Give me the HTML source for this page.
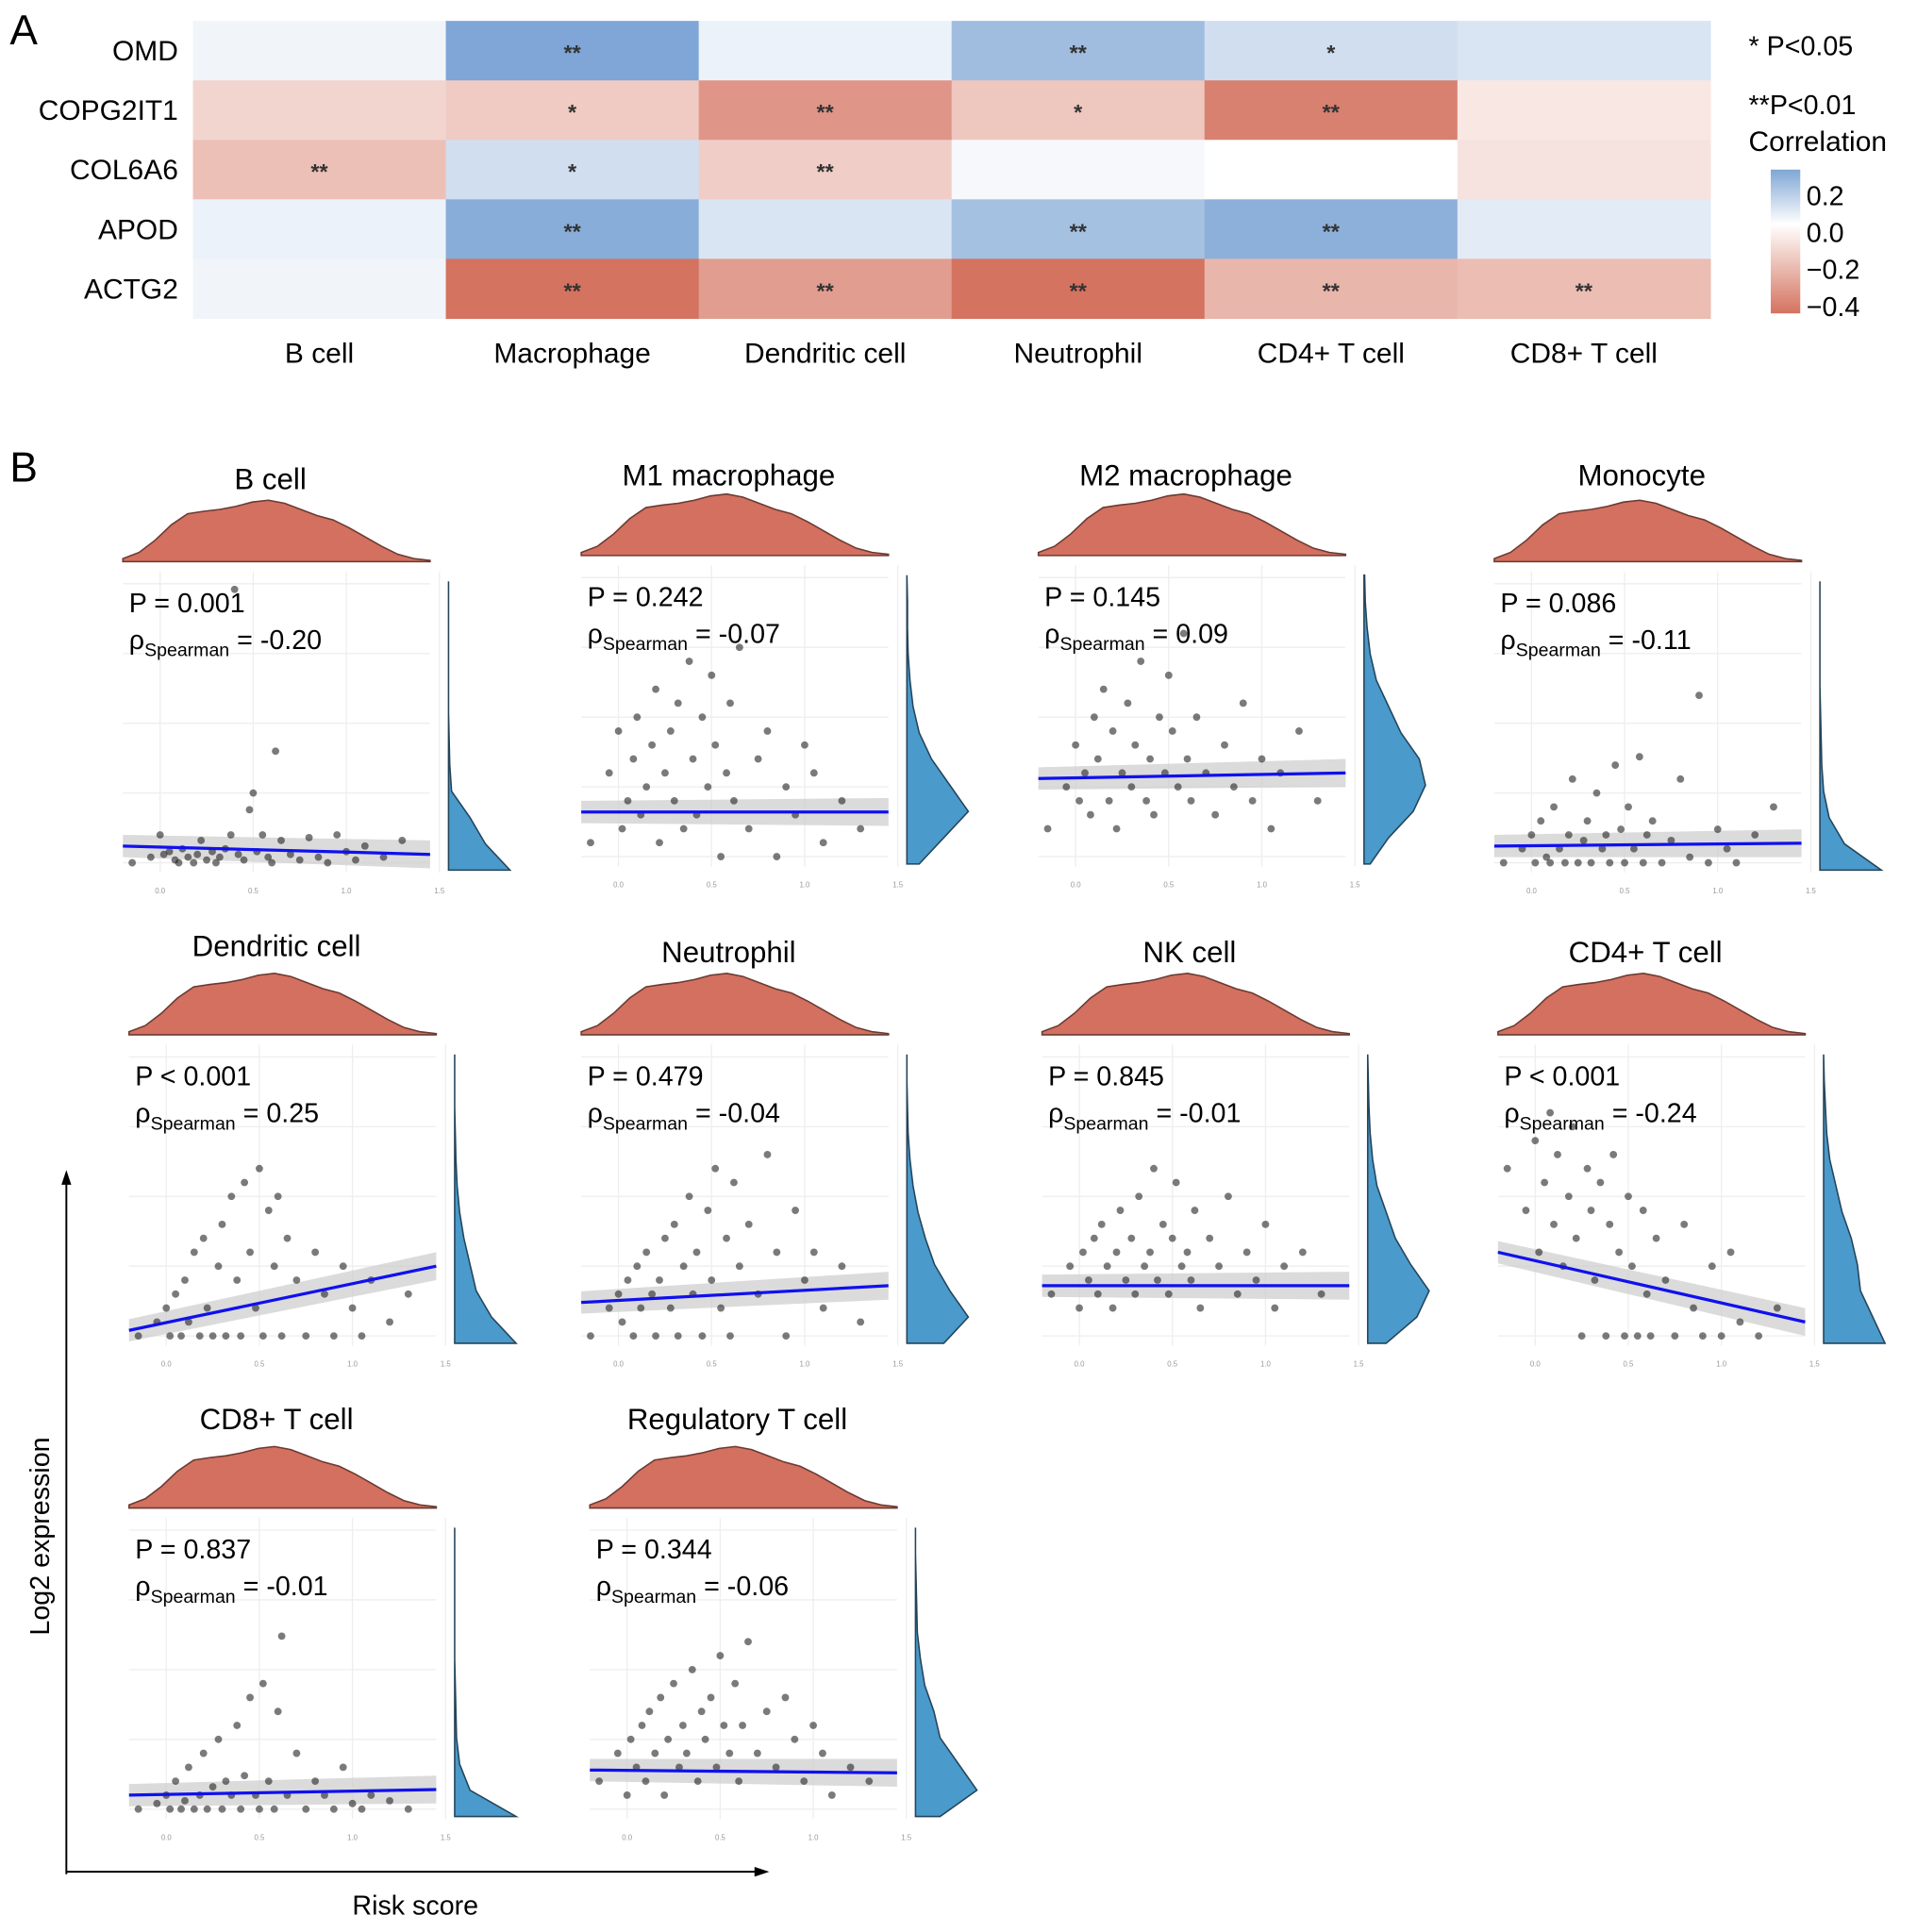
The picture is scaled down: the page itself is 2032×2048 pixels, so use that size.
<!DOCTYPE html>
<html><head><meta charset="utf-8"><style>
body{margin:0;background:#fff}
svg{display:block;font-family:"Liberation Sans",sans-serif}
</style></head><body>
<svg id="fig" width="2032" height="2048" viewBox="0 0 1560 1572" preserveAspectRatio="none" xmlns="http://www.w3.org/2000/svg">
<rect width="1560" height="1572" fill="#fff"/>
<text x="8" y="36" font-size="34">A</text>
<text x="8" y="392" font-size="34">B</text>
<g id="heat"></g>
<g id="legend">
<text x="1423" y="45" font-size="22">* P&lt;0.05</text>
<text x="1423" y="93" font-size="22">**P&lt;0.01</text>
<text x="1423" y="123" font-size="23">Correlation</text>
<defs><linearGradient id="cb" x1="0" y1="0" x2="0" y2="1">
<stop offset="0" stop-color="#7fa6d4"/><stop offset="0.38" stop-color="#ffffff"/><stop offset="1" stop-color="#d4735f"/></linearGradient></defs>
<rect x="1441" y="138" width="24" height="117" fill="url(#cb)"/>
</g>
<g id="panels"></g>
<g>
<line x1="54" y1="1525" x2="54" y2="960" stroke="#000" stroke-width="1.5"/>
<polygon points="54,952 50,964 58,964" fill="#000"/>
<line x1="54" y1="1523" x2="618" y2="1523" stroke="#000" stroke-width="1.5"/>
<polygon points="626,1523 614,1519 614,1527" fill="#000"/>
<text x="40" y="1250" font-size="22" text-anchor="middle" transform="rotate(-90 40 1250)">Log2 expression</text>
<text x="338" y="1558" font-size="22" text-anchor="middle">Risk score</text>
</g>
</svg>
<script>
const NS="http://www.w3.org/2000/svg";
function mk(tag,attrs,parent){const e=document.createElementNS(NS,tag);for(const k in attrs)e.setAttribute(k,attrs[k]);parent.appendChild(e);return e;}

// ---------- Heatmap data ----------
const heatGenes=["OMD","COPG2IT1","COL6A6","APOD","ACTG2"];
const heatCells=["B cell","Macrophage","Dendritic cell","Neutrophil","CD4+ T cell","CD8+ T cell"];
const heatValues=[
 [0.03,0.27,0.04,0.2,0.1,0.08],
 [-0.12,-0.15,-0.3,-0.16,-0.36,-0.07],
 [-0.18,0.1,-0.14,0.02,0.0,-0.08],
 [0.04,0.25,0.08,0.19,0.24,0.06],
 [0.03,-0.4,-0.28,-0.4,-0.21,-0.19]];
const heatStars=[
 ["","**","","**","*",""],
 ["","*","**","*","**",""],
 ["**","*","**","","",""],
 ["","**","","**","**",""],
 ["","**","**","**","**","**"]];
const legendTicks=["0.2","0.0","\u22120.2","\u22120.4"];
const legendTickVals=[0.2,0.0,-0.2,-0.4];

function mix(a,b,t){return a.map((v,i)=>Math.round(v+(b[i]-v)*t));}
function colorOf(v){const w=[255,255,255],bl=[122,163,212],rd=[210,108,88];
 const c=v>=0?mix(w,bl,Math.min(1,v/0.28)):mix(w,rd,Math.min(1,-v/0.42));return `rgb(${c})`;}
const heat=document.getElementById('heat');
const hx0=157,hy0=17,cw=205.8,ch=48.4;
heatValues.forEach((row,r)=>{
 const lb=mk('text',{x:145,y:hy0+r*ch+ch/2+8,'font-size':23,'text-anchor':'end'},heat);lb.textContent=heatGenes[r];
 
 
 row.forEach((v,c)=>{
  const rc=mk('rect',{x:hx0+c*cw,y:hy0+r*ch,width:cw+0.5,height:ch+0.5,fill:colorOf(v)},heat);
  
  
  if(heatStars[r][c]){const s=mk('text',{x:hx0+c*cw+cw/2,y:hy0+r*ch+ch/2+8,'font-size':18,'text-anchor':'middle','font-weight':'bold',fill:'#333'},heat);s.textContent=heatStars[r][c];
   
   }
 });
});
heatCells.forEach((n,c)=>{const t=mk('text',{x:hx0+c*cw+cw/2,y:295,'font-size':23,'text-anchor':'middle'},heat);t.textContent=n;
 
 });
const lg=document.getElementById('legend');
legendTickVals.forEach((v,i)=>{const y=159+(0.2-v)*150;
 const t=mk('text',{x:1470,y:y+8,'font-size':22},lg);t.textContent=legendTicks[i];
 
 });

// ---------- Scatter panel data ----------
const panelTitles=["B cell","M1 macrophage","M2 macrophage","Monocyte","Dendritic cell","Neutrophil","NK cell","CD4+ T cell","CD8+ T cell","Regulatory T cell"];
const pValues=["P = 0.001","P = 0.242","P = 0.145","P = 0.086","P < 0.001","P = 0.479","P = 0.845","P < 0.001","P = 0.837","P = 0.344"];
const rhoValues=["-0.20","-0.07","0.09","-0.11","0.25","-0.04","-0.01","-0.24","-0.01","-0.06"];
const riskScores=[-0.15,-0.05,0.0,0.02,0.05,0.08,0.1,0.12,0.15,0.18,0.2,0.22,0.25,0.28,0.3,0.32,0.35,0.38,0.4,0.42,0.45,0.48,0.5,0.52,0.55,0.58,0.6,0.62,0.65,0.7,0.75,0.8,0.85,0.9,0.95,1.0,1.05,1.1,1.2,1.3];
const yB=[0,0.02,0.1,0.03,0.04,0.01,0,0.05,0.02,0,0.03,0.08,0.01,0.04,0,0.02,0.05,0.1,0.98,0.03,0.01,0.19,0.25,0.04,0.1,0.02,0,0.4,0.08,0.03,0.01,0.09,0.02,0,0.1,0.04,0.01,0.06,0.02,0.08];
const yM1=[0.05,0.3,0.45,0.1,0.2,0.35,0.5,0.15,0.25,0.4,0.6,0.05,0.3,0.45,0.2,0.55,0.1,0.7,0.35,0.15,0.5,0.25,0.65,0.4,0.0,0.3,0.55,0.2,0.75,0.1,0.35,0.45,0.0,0.25,0.15,0.4,0.3,0.05,0.2,0.1];
const yM2=[0.1,0.25,0.4,0.2,0.3,0.15,0.5,0.35,0.6,0.2,0.45,0.1,0.3,0.55,0.25,0.4,0.7,0.2,0.35,0.15,0.5,0.3,0.65,0.45,0.25,0.8,0.35,0.2,0.5,0.3,0.15,0.4,0.25,0.55,0.2,0.35,0.1,0.3,0.45,0.2];
const yMono=[0,0.05,0.1,0,0.15,0.02,0,0.2,0.05,0,0.1,0.3,0.0,0.08,0.15,0,0.25,0.05,0.1,0,0.35,0.12,0,0.2,0.05,0.38,0,0.1,0.15,0,0.08,0.3,0.02,0.6,0,0.12,0.05,0,0.1,0.2];
const yDC=[0,0.05,0.1,0,0.15,0,0.2,0.05,0.3,0,0.35,0.1,0,0.25,0.4,0,0.5,0.2,0,0.55,0.3,0.1,0.6,0,0.45,0.25,0.5,0,0.35,0.2,0,0.3,0.15,0,0.25,0.1,0,0.2,0.05,0.15];
const yNeut=[0,0.1,0.15,0.05,0.2,0,0.25,0.1,0.3,0.15,0,0.2,0.35,0.1,0.4,0,0.25,0.5,0.15,0.3,0,0.45,0.2,0.6,0.1,0.35,0,0.55,0.25,0.4,0.15,0.65,0.3,0,0.45,0.2,0.3,0.1,0.25,0.05];
const yNK=[0.15,0.25,0.1,0.3,0.2,0.35,0.15,0.4,0.25,0.1,0.3,0.45,0.2,0.35,0.15,0.5,0.25,0.3,0.6,0.2,0.4,0.15,0.35,0.55,0.25,0.3,0.2,0.45,0.1,0.35,0.25,0.5,0.15,0.3,0.2,0.4,0.1,0.25,0.3,0.15];
const yCD4=[0.6,0.45,0.7,0.3,0.55,0.8,0.4,0.65,0.25,0.5,0.75,0.35,0,0.6,0.45,0.2,0.55,0,0.4,0.65,0.3,0,0.5,0.25,0,0.45,0.15,0,0.35,0.2,0,0.4,0.1,0,0.25,0,0.3,0.05,0,0.1];
const yCD8=[0,0.02,0.05,0,0.1,0,0.03,0.15,0,0.05,0.2,0,0.08,0.25,0,0.1,0.05,0.3,0,0.12,0.4,0.05,0,0.45,0.1,0,0.35,0.62,0.05,0.2,0,0.1,0.05,0,0.15,0.02,0,0.05,0.03,0];
const yTreg=[0.1,0.2,0.05,0.25,0.15,0.3,0.1,0.35,0.2,0.4,0.05,0.25,0.45,0.15,0.3,0.2,0.5,0.1,0.35,0.25,0.4,0.15,0.55,0.3,0.2,0.45,0.1,0.3,0.6,0.2,0.35,0.15,0.4,0.25,0.1,0.3,0.2,0.05,0.15,0.1];
const panelY=[yB,yM1,yM2,yMono,yDC,yNeut,yNK,yCD4,yCD8,yTreg];
const lineStart=[0.06,0.16,0.28,0.06,0.02,0.12,0.18,0.3,0.05,0.14];
const lineEnd=[0.03,0.16,0.3,0.07,0.25,0.18,0.18,0.05,0.07,0.13];
const topDensity=[0.05,0.15,0.35,0.6,0.78,0.82,0.85,0.9,0.97,1.0,0.95,0.85,0.75,0.68,0.55,0.4,0.25,0.12,0.05,0.02];
const rightDensity=[
 [1,0.6,0.35,0.05,0.02,0.01,0,0,0,0,0,0],
 [0.2,0.6,1,0.7,0.4,0.2,0.1,0.05,0.02,0.01,0.01,0],
 [0.1,0.4,0.8,1,0.9,0.6,0.4,0.2,0.1,0.05,0.02,0.01],
 [1,0.4,0.15,0.06,0.03,0.02,0.01,0,0,0,0,0],
 [1,0.6,0.35,0.25,0.15,0.08,0.04,0.02,0.01,0,0,0],
 [0.6,1,0.7,0.45,0.3,0.18,0.1,0.05,0.02,0.01,0,0],
 [0.3,0.8,1,0.7,0.45,0.3,0.15,0.08,0.04,0.02,0.01,0],
 [1,0.8,0.6,0.55,0.45,0.3,0.2,0.1,0.05,0.03,0.01,0],
 [1,0.25,0.08,0.03,0.02,0.01,0,0,0,0,0,0],
 [0.4,1,0.7,0.4,0.3,0.15,0.08,0.03,0.02,0.01,0,0]];
const xTickLabels=["0.0","0.5","1.0","1.5"];
const xTickVals=[0,0.5,1,1.5];

const layout=[[100,465],[473,460],[845,460],[1216,465],[105,850],[473,850],[848,850],[1219,850],[105,1235],[480,1235]];
const titleY=[398,395,395,395,778,783,783,783,1163,1163];
const PW=250,PH=245,XMIN=-0.2,XMAX=1.45;
const panels=document.getElementById('panels');
panelTitles.forEach((name,i)=>{
 const [px,py]=layout[i];
 const g=mk('g',{},panels);
 
 
 const sx=v=>px+(v-XMIN)/(XMAX-XMIN)*PW;
 const sy=v=>py+PH-8-v*(PH-18);
 const t=mk('text',{x:px+PW/2-5,y:titleY[i],'font-size':24,'text-anchor':'middle'},g);t.textContent=name;
 
 
 const base=py-8,dh=50;let d=`M${px},${base}`;
 topDensity.forEach((v,k)=>{d+=` L${px+k/(topDensity.length-1)*PW},${base-v*dh}`;});
 d+=` L${px+PW},${base} Z`;
 const td=mk('path',{d,fill:'#d3705f',stroke:'#6a3a32','stroke-width':1.2},g);
 
 
 xTickVals.forEach((v,k)=>{mk('line',{x1:sx(v),y1:py,x2:sx(v),y2:py+PH,stroke:'#eee'},g);
  const tl=mk('text',{x:sx(v),y:py+PH+17,'font-size':6,'text-anchor':'middle',fill:'#999'},g);tl.textContent=xTickLabels[k];
  
  });
 [0,0.25,0.5,0.75,1].forEach(v=>mk('line',{x1:px,y1:sy(v),x2:px+PW,y2:sy(v),stroke:'#eee'},g));
 const l0=lineStart[i],l1=lineEnd[i];
 mk('polygon',{points:`${px},${sy(l0+0.04)} ${px+PW},${sy(l1+0.05)} ${px+PW},${sy(l1-0.05)} ${px},${sy(l0-0.04)}`,fill:'#cccccc',opacity:0.7},g);
 panelY[i].forEach((v,k)=>{const c=mk('circle',{cx:sx(riskScores[k]),cy:sy(v),r:3,fill:'#222','fill-opacity':0.6},g);
  
  });
 const ln=mk('line',{x1:px,y1:sy(l0),x2:px+PW,y2:sy(l1),stroke:'#1010ee','stroke-width':2.5},g);
 
 
 const rx=px+PW+15,rw=50;let rd=`M${rx},${py+PH-2}`;const rv=rightDensity[i];
 rv.forEach((v,k)=>{rd+=` L${rx+v*rw},${py+PH-2-k/(rv.length-1)*(PH-10)}`;});
 rd+=` L${rx},${py+8} Z`;
 const rdp=mk('path',{d:rd,fill:'#4a9acb',stroke:'#24445a','stroke-width':1.2},g);
 
 
 const p=mk('text',{x:px+5,y:py+33,'font-size':22},g);p.textContent=pValues[i];
 
 
 const r=mk('text',{x:px+5,y:py+63,'font-size':22},g);
 
 
 r.innerHTML=`ρ<tspan font-size="15" dy="6">Spearman</tspan><tspan dy="-6"> = ${rhoValues[i]}</tspan>`;
});
</script>
</body></html>
